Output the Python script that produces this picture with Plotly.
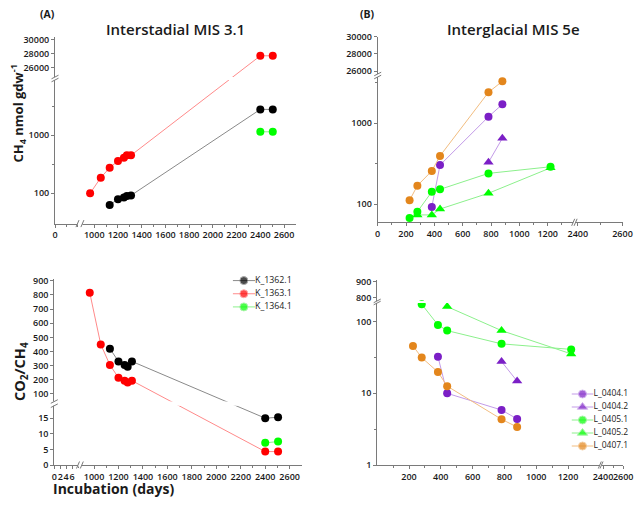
import math
import plotly.graph_objects as go

# ---------------- values ----------------
# (A) Interstadial MIS 3.1
k1362_days = [1130, 1200, 1250, 1275, 1310, 2400, 2505]
k1362_ch4 = [63, 79, 85, 90, 92, 2800, 2800]
k1362_ratio = [420, 330, 305, 293, 330, 15.0, 15.3]

k1363_days = [965, 1055, 1130, 1200, 1250, 1275, 1310, 2400, 2505]
k1363_ch4 = [100, 186, 276, 361, 411, 452, 452, 27700, 27700]
k1363_ratio = [815, 450, 305, 215, 194, 182, 194, 4.3, 4.3]

k1364_days = [2400, 2505]
k1364_ch4 = [1150, 1150]
k1364_ratio = [7.1, 7.5]

# (B) Interglacial MIS 5e
l0404_1_days = [382, 440, 782, 880]
l0404_1_ch4 = [93, 305, 1206, 1717]
l0404_1_ratio = [32.5, 10.0, 5.85, 4.4]

l0404_2_days = [782, 880]
l0404_2_ch4 = [330, 653]
l0404_2_ratio = [27.7, 14.8]

l0405_1_ch4_days = [225, 280, 382, 440, 782, 1220]
l0405_1_ch4 = [68, 81, 143, 153, 241, 291]
l0405_1_ratio_days = [280, 382, 440, 782, 1220]
l0405_1_ratio = [175, 90, 75, 49, 41]

l0405_2_ch4_days = [280, 382, 440, 782, 1220]
l0405_2_ch4 = [74, 74, 87.5, 137, 282]
l0405_2_ratio_days = [440, 782, 1220]
l0405_2_ratio = [162, 75, 35.5]

l0407_1_days = [225, 280, 382, 440, 782, 880]
l0407_1_ch4 = [112, 170, 258, 396, 2415, 3300]
l0407_1_ratio = [45.8, 31.5, 19.8, 12.6, 4.34, 3.39]

# tick values / labels
a_top_xticks = [0, 1000, 1200, 1400, 1600, 1800, 2000, 2200, 2400, 2600]
a_bot_xticks = [0, 2, 4, 6, 1000, 1200, 1400, 1600, 1800, 2000, 2200, 2400, 2600]
a_top_xminor = [4, 8] + list(range(1100, 2600, 200))
a_bot_xminor = [8] + list(range(1100, 2600, 200))
b_top_xticks = [0, 200, 400, 600, 800, 1000, 1200, 2400, 2600]
b_bot_xticks = [200, 400, 600, 800, 1000, 1200, 2400, 2600]
b_xminor = list(range(100, 1400, 200)) + [2500]
a_top_yticks = [100, 1000, 26000, 28000, 30000]
a_bot_yticks = [0, 5, 10, 15] + list(range(100, 901, 100))
b_top_yticks = [100, 1000, 26000, 28000, 30000]
b_bot_yticks = [1, 10, 100, 800, 900]

# ---------------- layout of the broken axes (page pixels) ----------------
# the page body has an 8px margin: the figure starts at (8, 8) and only
# reaches to (634, 497) of the window
OFF = 8
W, H = 642 - 2 * OFF, 505 - 2 * OFF
FONT = "Open Sans"
AXIS = "#7a7a7a"
TXT = "#1a1a1a"

# (value_lo, value_hi, pixel_lo, pixel_hi, log)
AX_A_TOP = [(0, 8, 55, 77.5, False), (900, 2700, 82.4, 295.9, False)]
AY_A_TOP = [(30, 9000, 223.6, 80.0, True), (24700, 30400, 77, 36.7, False)]
AX_A_BOT = [(0, 8, 54.3, 78.0, False), (900, 2700, 81.8, 301.9, False)]
AY_A_BOT = [(0, 19, 465, 405.7, False), (47, 912, 401.5, 279, False)]
AX_B_TOP = [(0, 1380, 377.7, 573.2, False), (2390, 2600, 575.6, 622.5, False)]
AY_B_TOP = [(60, 3730, 222.3, 77, True), (25650, 30000, 74, 36.7, False)]
AX_B_BOT = [(0, 1400, 377.2, 599.8, False), (2385, 2600, 601.5, 623.2, False)]
AY_B_BOT = [(1, 182, 465, 303, True), (780, 910, 300.9, 280.1, False)]


def fx_dom(p):
    return (p - OFF) / W


def fy_dom(p):
    return 1 - (p - OFF) / H


def make_map(segs):
    def f(v):
        for lo, hi, p0, p1, log in segs:
            if lo <= v <= hi:
                if log:
                    t = (math.log10(v) - math.log10(lo)) / (math.log10(hi) - math.log10(lo))
                else:
                    t = (v - lo) / (hi - lo)
                return p0 + t * (p1 - p0)
        raise ValueError(v)
    return f


def axis(segs, horizontal, anchor, major, labels=None, minor=()):
    f = make_map(segs)
    p0, p1 = segs[0][2], segs[-1][3]
    dom = [fx_dom(p0), fx_dom(p1)] if horizontal else [fy_dom(p0), fy_dom(p1)]
    if labels is None:
        labels = [str(v) for v in major]
    d = dict(
        domain=dom, range=[p0, p1], anchor=anchor, automargin=False,
        tickmode="array", tickvals=[f(v) for v in major], ticktext=labels,
        showline=True, linecolor=AXIS, linewidth=1,
        ticks="outside", ticklen=3, tickcolor=AXIS,
        showgrid=False, zeroline=False,
        tickfont=dict(family=FONT, size=9, color=TXT, weight=600),
        minor=dict(tickmode="array", tickvals=[f(v) for v in minor],
                   ticks="outside", ticklen=2, tickcolor=AXIS, showgrid=False),
    )
    if horizontal:
        d["tickangle"] = 0
    return d


def half_decades(segs):
    lo, hi = segs[0][0], segs[0][1]
    out = []
    for e in range(-1, 6):
        v = 10 ** (e + 0.5)
        if lo * 1.1 < v < hi * 0.95:
            out.append(v)
    return out


fig = go.Figure()


def add_series(name, days, vals, xs, ys, xa, ya, symbol, mcol, lcol):
    fx, fy = make_map(xs), make_map(ys)
    fig.add_trace(go.Scatter(
        x=[fx(d) for d in days], y=[fy(v) for v in vals],
        mode="lines+markers", name=name, showlegend=False,
        line=dict(color=lcol, width=1),
        marker=dict(symbol=symbol, size=9 if symbol != "circle" else 8, color=mcol),
        customdata=list(zip(days, vals)),
        hovertemplate=name + "<br>%{customdata[0]} d: %{customdata[1]}<extra></extra>",
        xaxis=xa, yaxis=ya,
    ))


BLACK = ("#000000", "#8a8a8a")
RED = ("#ff0000", "#ff8a8a")
GREEN = ("#00ff00", "#8cf08c")
PURPLE = ("#7b1fc6", "#c39be8")
ORANGE = ("#e3861c", "#f2bd80")

# panel A
for name, d, ch4, rat, col in [
    ("K_1362.1", k1362_days, k1362_ch4, k1362_ratio, BLACK),
    ("K_1363.1", k1363_days, k1363_ch4, k1363_ratio, RED),
    ("K_1364.1", k1364_days, k1364_ch4, k1364_ratio, GREEN),
]:
    add_series(name, d, ch4, AX_A_TOP, AY_A_TOP, "x", "y", "circle", *col)
    add_series(name, d, rat, AX_A_BOT, AY_A_BOT, "x2", "y2", "circle", *col)

# panel B
for name, d1, ch4, d2, rat, sym, col in [
    ("L_0404.1", l0404_1_days, l0404_1_ch4, l0404_1_days, l0404_1_ratio, "circle", PURPLE),
    ("L_0404.2", l0404_2_days, l0404_2_ch4, l0404_2_days, l0404_2_ratio, "triangle-up", PURPLE),
    ("L_0405.1", l0405_1_ch4_days, l0405_1_ch4, l0405_1_ratio_days, l0405_1_ratio, "circle", GREEN),
    ("L_0405.2", l0405_2_ch4_days, l0405_2_ch4, l0405_2_ratio_days, l0405_2_ratio, "triangle-up", GREEN),
    ("L_0407.1", l0407_1_days, l0407_1_ch4, l0407_1_days, l0407_1_ratio, "circle", ORANGE),
]:
    add_series(name, d1, ch4, AX_B_TOP, AY_B_TOP, "x3", "y3", sym, *col)
    add_series(name, d2, rat, AX_B_BOT, AY_B_BOT, "x4", "y4", sym, *col)

# hand-made legends (rows spaced like the original)
legend_a = [("K_1362.1", "circle", BLACK), ("K_1363.1", "circle", RED), ("K_1364.1", "circle", GREEN)]
legend_b = [("L_0404.1", "circle", PURPLE), ("L_0404.2", "triangle-up", PURPLE),
            ("L_0405.1", "circle", GREEN), ("L_0405.2", "triangle-up", GREEN),
            ("L_0407.1", "circle", ORANGE)]
for items, xa, ya, fs in [(legend_a, "x5", "y5", 8.8), (legend_b, "x6", "y6", 8.5)]:
    for i, (name, sym, (mc, lc)) in enumerate(items):
        fig.add_trace(go.Scatter(
            x=[0, 0.5, 1], y=[i, i, i], mode="lines+markers+text",
            line=dict(color=lc, width=1),
            marker=dict(symbol=sym, size=[0, 9 if sym != "circle" else 8, 0], color=mc),
            text=["", "", name], textposition="middle right",
            textfont=dict(family=FONT, size=fs, color=TXT),
            cliponaxis=False, showlegend=False, hoverinfo="skip",
            xaxis=xa, yaxis=ya,
        ))

layout = dict(
    xaxis=axis(AX_A_TOP, True, "y", a_top_xticks, minor=a_top_xminor),
    yaxis=axis(AY_A_TOP, False, "x", a_top_yticks, minor=half_decades(AY_A_TOP)),
    xaxis2=axis(AX_A_BOT, True, "y2", a_bot_xticks, minor=a_bot_xminor),
    yaxis2=axis(AY_A_BOT, False, "x2", a_bot_yticks),
    xaxis3=axis(AX_B_TOP, True, "y3", b_top_xticks, minor=b_xminor),
    yaxis3=axis(AY_B_TOP, False, "x3", b_top_yticks, minor=half_decades(AY_B_TOP)),
    xaxis4=axis(AX_B_BOT, True, "y4", b_bot_xticks, minor=b_xminor),
    yaxis4=axis(AY_B_BOT, False, "x4", b_bot_yticks, minor=half_decades(AY_B_BOT)),
    xaxis5=dict(domain=[fx_dom(232.7), fx_dom(255)], range=[0, 1], anchor="y5", visible=False),
    yaxis5=dict(domain=[fy_dom(313.5), fy_dom(274)], range=[2.5, -0.5], anchor="x5", visible=False),
    xaxis6=dict(domain=[fx_dom(571.5), fx_dom(593.5)], range=[0, 1], anchor="y6", visible=False),
    yaxis6=dict(domain=[fy_dom(452.5), fy_dom(387.5)], range=[4.5, -0.5], anchor="x6", visible=False),
)


def px(x, y):
    return fx_dom(x), fy_dom(y)


shapes = []


def seg(x0, y0, x1, y1, color=AXIS):
    a, b = px(x0, y0)
    c, d = px(x1, y1)
    shapes.append(dict(type="line", xref="paper", yref="paper", x0=a, y0=b, x1=c, y1=d,
                       line=dict(color=color, width=1)))


def white(x0, y0, x1, y1):
    a, b = px(x0, y0)
    c, d = px(x1, y1)
    shapes.append(dict(type="rect", xref="paper", yref="paper", x0=a, y0=b, x1=c, y1=d,
                       fillcolor="white", line=dict(width=0), layer="above"))


def y_break(segs, xsegs):
    ax = xsegs[0][2]
    top, bot = segs[1][2], segs[0][3]
    white(ax - 1.5, top, xsegs[-1][3], bot)
    for yy in (top, bot):
        seg(ax - 3.5, yy + 1.8, ax + 3.5, yy - 1.8)


def x_break(segs, ysegs):
    ay = ysegs[0][2]
    left, right = segs[0][3], segs[1][2]
    white(left, ay - 2, right, ay + 1.5)
    for xx in (left, right):
        seg(xx - 1.5, ay + 3.5, xx + 1.5, ay - 3.5)


for xs, ys in [(AX_A_TOP, AY_A_TOP), (AX_A_BOT, AY_A_BOT), (AX_B_TOP, AY_B_TOP), (AX_B_BOT, AY_B_BOT)]:
    y_break(ys, xs)
    x_break(xs, ys)

annotations = []


def label(text, x, y, size, weight=700, angle=0):
    a, b = px(x, y)
    annotations.append(dict(text=text, x=a, y=b, xref="paper", yref="paper",
                            xanchor="center", yanchor="middle",
                            showarrow=False, textangle=angle,
                            font=dict(family=FONT, size=size, color=TXT, weight=weight)))


label("(A)", 47.5, 14, 10.5)
label("(B)", 367, 14, 10.5)
label("Interstadial MIS 3.1", 175, 29, 15, 600)
label("Interglacial MIS 5e", 513.5, 29, 15, 600)
label("CH<sub>4</sub> nmol gdw<sup>-1</sup>", 18.5, 114, 13, 700, -90)
label("CO<sub>2</sub>/CH<sub>4</sub>", 20, 372, 14.5, 700, -90)
label("Incubation (days)", 113, 488, 14, 700)

fig.update_layout(
    **layout,
    shapes=shapes, annotations=annotations,
    width=W, height=H, margin=dict(l=0, r=0, t=0, b=0, autoexpand=False),
    plot_bgcolor="white", paper_bgcolor="white",
    font=dict(family=FONT, color=TXT),
    showlegend=False,
)

fig.write_html("out.html")
